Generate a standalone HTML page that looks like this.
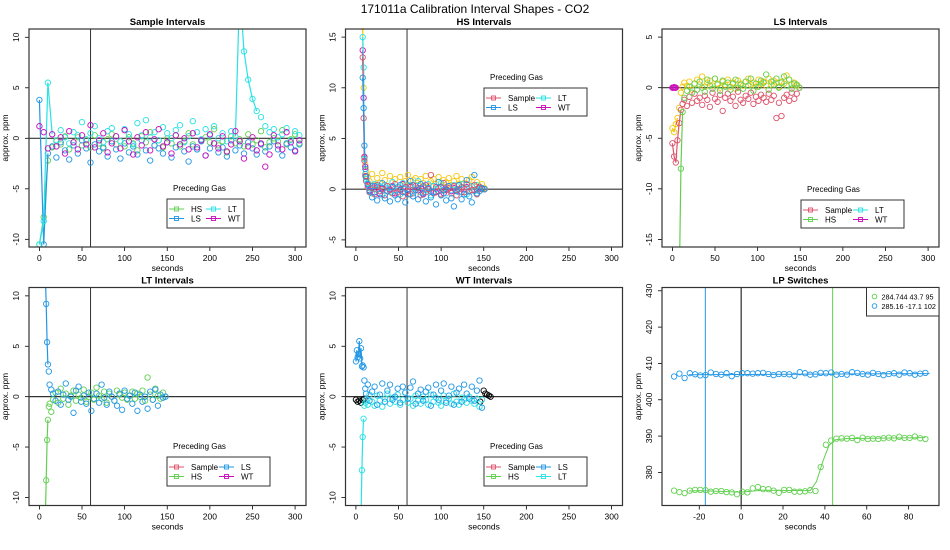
<!DOCTYPE html>
<html><head><meta charset="utf-8">
<style>
html,body{margin:0;padding:0;background:#fff;overflow:hidden;width:950px;height:550px;}
svg{display:block;font-family:"Liberation Sans",Arial,sans-serif;}
</style></head>
<body>
<svg id="chart" width="950" height="550" viewBox="0 0 950 550" xmlns="http://www.w3.org/2000/svg">
<text x="475" y="13" text-anchor="middle" font-size="12">171011a   Calibration Interval Shapes - CO2</text>
</svg>
<script>
// ---------- data ----------
const p1Times=[0,5,10,15,20,25,30,35,40,45,50,55,60,65,70,75,80,85,90,95,100,105,110,115,120,125,130,135,140,145,150,155,160,165,170,175,180,185,190,195,200,205,210,215,220,225,230,235,240,245,250,255,260,265,270,275,280,285,290,295,300,305];
const p1HS=[-10.5,-7.8,-2.2,-0.9,-0.3,-0.6,0.2,-1.1,-0.4,0.1,-0.7,-0.2,-0.9,0.3,-0.5,-1.0,-0.1,0.4,-0.6,-0.3,-0.8,0.1,-0.5,-1.2,0.2,-0.4,0.6,-0.7,-0.2,-0.9,0.0,-0.5,0.3,-0.8,-0.3,0.5,-0.6,-1.1,-0.2,0.1,-0.4,0.9,-0.7,-0.3,-1.4,0.2,-0.5,-0.1,-0.8,0.4,-0.6,-0.2,0.7,-0.9,-0.4,0.0,-0.3,0.8,-0.6,-0.1,0.4,-0.5];
const p1LS=[3.8,-10.5,-1.5,-0.8,-1.9,-0.4,-1.2,-2.1,-0.7,-1.5,-0.2,-1.0,-2.4,-0.6,-1.3,-0.9,-1.8,-0.3,-1.1,-2.0,-0.5,-1.4,-0.8,-1.6,-0.2,-1.2,-2.2,-0.7,-1.0,-1.5,-0.4,-1.9,-0.9,-0.6,-1.3,-2.3,-0.8,-1.1,-0.3,-1.7,-1.0,-0.5,-1.4,-0.9,-1.8,-0.2,-1.2,-0.7,-1.5,-0.4,-1.0,-1.6,-0.6,-1.3,-0.8,-0.3,-1.1,-1.7,-0.5,-0.9,-1.2,-0.6];
const p1LT=[-10.5,-8.2,5.5,0.4,-0.2,0.8,0.1,-0.5,0.6,0.3,1.6,-0.1,0.5,1.2,0.0,-0.4,0.7,1.0,0.2,-0.3,0.9,0.4,-0.6,1.5,0.3,1.8,0.1,0.6,-0.2,1.1,0.5,0.0,0.8,1.3,-0.4,0.2,1.7,0.6,-0.1,0.9,0.3,1.2,0.0,0.5,-0.3,0.7,0.2,15,8.6,5.8,3.9,2.7,2.1,1.2,0.6,0.9,0.1,0.4,1.0,-0.2,0.7,0.3];
const p1WT=[1.2,0.6,-1.0,0.4,-0.8,0.1,-1.5,0.7,-0.4,-1.1,0.3,-0.6,1.3,-0.9,-0.2,0.5,-1.4,-0.5,0.2,-1.0,0.8,-0.3,-1.6,0.1,-0.7,0.6,-1.2,-0.1,0.9,-0.8,-0.4,-1.5,0.3,-0.6,0.0,-1.1,0.5,-0.9,-0.2,-1.7,0.4,-0.5,-1.0,0.2,-1.3,-0.6,0.7,-0.3,-2.0,-0.8,0.1,-1.2,-0.5,-2.8,-1.6,0.3,-0.7,-1.1,0.6,-0.4,-1.3,-0.2];

const p2Times=[8,9,10,11,12,14,16,19,22,25,28,31,34,37,40,43,46,49,52,55,58,61,64,67,70,73,76,79,82,85,88,91,94,97,100,103,106,109,112,115,118,121,124,127,130,133,136,139,142,145,148,151];
const p2Sample=[13,7,2.8,1.3,0.8,0.2,-0.3,0.1,-0.5,0.4,-0.2,0.0,-0.6,0.3,-0.1,-0.4,0.5,-0.3,0.0,-0.7,0.2,-0.2,-0.5,0.4,-0.1,0.1,-0.6,0.3,-0.3,0.0,1.4,-0.4,0.2,-0.2,-0.5,0.6,-0.1,0.1,-0.4,0.3,-0.6,0.0,0.2,-0.3,0.5,-0.2,-0.1,0.4,-0.5,0.1,0.0,0.0];
const p2LS=[11,8,4.3,2.0,1.2,0.5,-0.2,-0.8,0.3,-1.1,-0.4,0.6,-0.9,-0.2,-1.2,0.2,-0.6,-1.0,0.4,-0.3,-1.3,-0.5,0.8,-0.7,-0.1,-1.0,0.5,-0.4,-1.2,0.1,-0.8,-0.3,-1.5,0.7,-0.6,-0.1,-1.1,0.3,-0.9,-1.7,-0.2,0.4,-1.0,-0.5,0.9,-0.7,-1.3,1.4,-0.4,-0.2,0.1,0.0];
const p2LT=[15,12,3,1.5,1.0,0.6,0.1,-0.4,0.5,0.0,0.3,-0.6,0.4,0.1,-0.3,0.7,-0.1,0.2,-0.5,0.6,0.0,-0.2,0.4,-0.4,0.1,0.8,-0.3,0.2,-0.1,0.5,-0.6,0.3,0.0,-0.2,0.6,0.1,-0.4,0.3,-0.1,0.4,0.0,-0.3,0.5,0.2,-0.5,0.1,0.3,-0.2,0.4,0.0,0.1,0.0];
const p2WT=[13.7,9,3.2,2.2,1.3,0.4,-0.1,0.3,-0.3,0.2,-0.5,0.1,0.4,-0.2,0.0,0.3,-0.4,0.2,-0.1,0.5,-0.3,0.0,0.2,-0.4,0.3,-0.1,0.1,-0.5,0.4,0.0,-0.2,0.3,-0.3,0.1,0.2,-0.4,0.0,0.3,-0.2,0.1,-0.1,0.4,-0.3,0.0,0.2,-0.2,0.3,-0.1,0.0,0.2,0.1,0.0];
const p2Other=[16,10,3.1,2.4,1.8,1.2,0.8,1.5,0.4,1.1,0.6,1.6,0.9,0.3,1.3,0.7,1.0,0.2,1.2,0.5,0.8,1.4,0.3,0.9,1.1,0.4,1.0,0.6,1.3,0.2,0.8,1.0,0.5,1.2,0.3,0.9,0.7,1.1,0.4,0.8,1.3,0.5,1.0,0.6,0.2,0.9,1.2,0.4,0.7,0.3,0.5,0.1];

const p3Times=[0,2,4,6,8,10,12,14,17,20,23,26,29,32,35,38,41,44,47,50,53,56,59,62,65,68,71,74,77,80,83,86,89,92,95,98,101,104,107,110,113,116,119,122,125,128,131,134,137,140,143,146,149];
const p3Sample=[-5.5,-6.8,-7.4,-5.2,-3.5,-2.2,-1.6,-1.2,-1.8,-0.9,-1.5,-0.6,-1.3,-1.0,-1.7,-0.8,-1.2,-1.9,-0.5,-1.1,-1.4,-0.7,-2.3,-1.0,-0.6,-1.3,-0.9,-1.8,-0.4,-1.2,-1.5,-0.8,-1.1,-0.5,-1.6,-0.9,-1.3,-0.7,-1.0,-1.4,-0.6,-1.2,-0.8,-3.0,-1.5,-2.8,-1.0,-0.7,-1.3,-0.5,-1.1,-0.6,0.0];
const p3HS=[null,null,null,-20,-20,-8,-2.4,-1.0,-0.3,0.1,-0.5,0.4,-0.2,0.6,0.0,-0.4,0.8,0.2,-0.1,0.9,0.3,-0.3,0.7,0.1,0.5,-0.2,0.4,0.8,0.0,0.3,-0.1,0.6,0.2,0.9,-0.3,0.4,0.1,0.7,0.5,1.3,-0.2,0.6,0.3,0.9,0.0,0.5,1.1,0.2,0.8,-0.1,0.4,0.3,0.0];
const p3Other=[-4.0,-4.4,-3.6,-3.0,-2.0,-0.5,0.1,0.5,0.2,0.6,-0.2,0.4,0.8,0.3,1.1,0.1,0.5,0.7,0.2,0.9,0.4,0.0,0.6,0.3,0.8,0.1,0.5,-0.1,0.7,0.4,0.2,0.6,0.9,0.3,0.5,0.1,0.8,0.4,0.6,0.2,0.9,0.3,0.7,0.5,0.1,0.6,0.4,1.2,0.8,0.3,0.5,0.2,0.0];
const p3WTTimes=[0,1,2,3,4];
const p3WT=[0,0,0.05,0,0];

const p4Times=[7,8,9,10,11,12,14,16,19,22,25,28,31,34,37,40,43,46,49,52,55,58,61,64,67,70,73,76,79,82,85,88,91,94,97,100,103,106,109,112,115,118,121,124,127,130,133,136,139,142,145,148];
const p4LS=[12,9.2,5.4,3.2,2.5,1.2,0.7,0.3,-0.4,0.5,-0.8,0.2,1.3,-0.3,0.0,-1.6,0.6,1.0,-0.5,0.1,-0.7,0.4,-1.4,-0.2,0.3,-0.6,1.2,-0.1,-0.8,0.5,0.0,-0.4,-0.9,0.3,-1.3,0.6,-0.2,0.1,-0.7,0.4,-1.4,0.2,-0.5,0.0,-1.2,0.5,-0.3,0.7,-0.9,0.2,-0.1,0.0];
const p4HS=[-12,-8.3,-4.3,-2.3,-1.0,-0.7,-1.5,-0.3,0.4,-0.6,0.8,-0.2,0.3,-0.8,0.1,0.6,-0.4,0.2,-0.1,0.7,-0.5,0.0,0.4,-0.3,0.9,0.1,-0.2,0.5,-0.6,0.3,0.0,-0.4,0.6,0.2,-0.1,0.4,-0.3,0.1,0.5,-0.2,0.3,0.0,0.6,-0.4,1.9,0.2,-0.3,0.8,0.1,-0.2,0.4,0.0];

const p5Times=[0,1,2,3,4,5,6,7,8,9,10,11,12,14,16,19,22,25,28,31,34,37,40,43,46,49,52,55,58,61,64,67,70,73,76,79,82,85,88,91,94,97,100,103,106,109,112,115,118,121,124,127,130,133,136,139,142,145,148];
const p5LS=[3.5,4.6,3.9,4.2,5.5,3.8,4.8,3.0,3.1,2.9,1.6,0.8,0.3,1.2,-0.4,0.5,1.0,-0.8,0.2,1.3,-0.5,0.6,1.2,-0.3,0.0,0.8,-0.6,1.0,0.4,-0.2,0.9,1.5,-0.7,0.3,0.7,-0.4,0.5,0.9,-0.9,0.2,1.2,-0.3,0.6,1.3,-0.6,0.1,1.0,-0.8,0.4,0.8,-0.5,1.2,0.3,-0.2,1.0,-0.4,0.6,1.6,-1.1];
const p5LT=[null,null,null,null,null,-20,-12,-7.3,-4.0,-2.2,-0.9,-0.6,-0.3,-0.8,0.2,-0.5,-0.9,0.1,-0.4,-1.0,-0.2,0.3,-0.7,-0.1,-0.5,0.2,-0.8,-0.3,0.4,-0.6,-0.2,-0.9,0.1,-0.4,-0.7,0.0,-0.3,-0.8,0.2,-0.5,-0.1,-0.6,-0.9,0.1,-0.4,-0.2,-0.7,0.3,-0.5,-0.8,-0.1,-0.3,-0.6,0.0,-0.4,-0.7,-0.2,-1.0,-0.3];
const p5OtherTimes=[0,2,4,6,8,10,146,150,152,154,156,158];
const p5Other=[-0.3,-0.5,-0.4,-0.6,-0.3,-0.2,-0.5,0.6,0.3,0.2,0.1,0.0];

const lpTimes=[-32,-29.5,-27,-24.5,-22,-19.5,-17,-14.5,-12,-9.5,-7,-4.5,-2,0.5,3,5.5,8,10.5,13,15.5,18,20.5,23,25.5,28,30.5,33,35.5,38,40.5,43,45.5,48,50.5,53,55.5,58,60.5,63,65.5,68,70.5,73,75.5,78,80.5,83,85.5,88];
const lpGreen=[375.0,374.6,374.3,375.0,375.2,375.2,375.1,374.7,374.9,374.9,374.6,374.5,374.0,374.7,374.5,375.6,376.0,375.4,375.4,375.0,374.4,375.2,375.2,374.7,374.7,374.8,375.1,374.9,381.5,387.6,388.8,389.3,389.4,389.3,389.5,388.9,389.6,389.2,389.3,389.2,389.4,389.6,389.4,389.8,389.5,389.5,389.9,389.4,389.2];
const lpBlue=[406.4,407.2,406.0,407.3,407.0,406.7,406.8,407.5,407.1,406.9,407.3,406.5,407.1,407.3,407.3,407.2,407.3,407.4,407.1,406.8,407.1,407.1,407.0,406.6,407.6,407.3,406.9,407.0,407.4,407.3,407.5,406.9,407.1,406.9,407.6,407.4,407.1,406.9,407.4,407.1,406.8,407.1,407.3,406.9,407.5,407.3,406.9,407.2,407.4];
const lpGreenFitT=[-25,-20,-5,0,10,33,36,39,42,45,50,88];
const lpGreenFit=[374.9,375.0,374.7,374.6,375.1,375.0,377.5,383,387.5,389.0,389.3,389.6];
const lpBlueFitT=[-25,90];
const lpBlueFit=[406.9,407.2];
const lpVLines=[-17.1,0,43.7];
const lpLegendLabels=["284.744 43.7 95","285.16 -17.1 102"];
const xTicks=[0,50,100,150,200,250,300];
const lpXTicks=[-20,0,20,40,60,80];
const lpYTicks=[380,390,400,410,420,430];

const C={red:"#DF536B",green:"#61D04F",blue:"#2297E6",cyan:"#28E2E5",mag:"#CD0BBC",yel:"#F5C710",blk:"#000"};
const NS="http://www.w3.org/2000/svg";
const svg=document.getElementById('chart');
function mk(tag,attrs,parent){const e=document.createElementNS(NS,tag);for(const k in attrs)e.setAttribute(k,attrs[k]);(parent||svg).appendChild(e);return e;}

function panel(cfg){
  const g=mk('g',{});
  
  
  const L=cfg.L,T=cfg.T,W=277,H=218;
  const sx=v=>L+(v-cfg.x0)/(cfg.x1-cfg.x0)*W;
  const sy=v=>T+(cfg.y1-v)/(cfg.y1-cfg.y0)*H;
  const cid='clip-'+cfg.name;
  const cp=mk('clipPath',{id:cid},g);mk('rect',{x:L,y:T,width:W,height:H},cp);
  const tt=mk('text',{x:L+W/2,y:T-4,'text-anchor':'middle','font-size':'9.5','font-weight':'bold'},g);tt.textContent=cfg.title;
  
  
  cfg.xt.forEach(v=>{const x=sx(v);mk('line',{x1:x,x2:x,y1:T+H,y2:T+H+4,stroke:'#000','stroke-width':0.8},g);
    const t=mk('text',{x:x,y:T+H+14,'text-anchor':'middle','font-size':'8.5'},g);t.textContent=v;
    
    });
  const xl=mk('text',{x:L+W/2,y:T+H+24,'text-anchor':'middle','font-size':'8.5'},g);xl.textContent='seconds';
  
  
  cfg.yt.forEach(v=>{const y=sy(v);mk('line',{x1:L-4,x2:L,y1:y,y2:y,stroke:'#000','stroke-width':0.8},g);
    const t=mk('text',{x:L-10,y:y,'text-anchor':'middle','font-size':'8.5',transform:`rotate(-90 ${L-10} ${y})`},g);t.textContent=v;
    
    });
  const yl=mk('text',{x:L-21,y:T+H/2,'text-anchor':'middle','font-size':'8.5',transform:`rotate(-90 ${L-21} ${T+H/2})`},g);yl.textContent='approx. ppm';
  
  
  const pg=mk('g',{'clip-path':`url(#${cid})`},g);
  if(cfg.hline!==undefined){const y=sy(cfg.hline);mk('line',{x1:L,x2:L+W,y1:y,y2:y,stroke:'#333','stroke-width':1.2},pg);}
  (cfg.vlines||[]).forEach(vl=>{const x=sx(vl.v);mk('line',{x1:x,x2:x,y1:T,y2:T+H,stroke:vl.c,'stroke-width':1},pg);});
  const lo=cfg.y0,hi=cfg.y1;
  // clip a segment in data space to the y range
  function clipSeg(t1,a,t2,b){
    if((a<lo&&b<lo)||(a>hi&&b>hi))return null;
    const f=v=>(v-a)/(b-a);
    let s=0,e=1;
    if(a<lo)s=Math.max(s,f(lo));if(a>hi)s=Math.max(s,f(hi));
    if(b<lo)e=Math.min(e,f(lo));if(b>hi)e=Math.min(e,f(hi));
    return [t1+(t2-t1)*s,a+(b-a)*s,t1+(t2-t1)*e,a+(b-a)*e];
  }
  (cfg.series).forEach(s=>{
    const sg=mk('g',{},pg);
    
    
    if(s.fitT){let d='';s.fitT.forEach((t,i)=>{d+=(i?'L':'M')+sx(t).toFixed(1)+','+sy(s.fit[i]).toFixed(1);});
      mk('path',{d:d,fill:'none',stroke:s.c,'stroke-width':1},sg);}
    else{
      for(let i=0;i<s.v.length-1&&i<s.t.length-1;i++){const a=s.v[i],b=s.v[i+1];if(a==null||b==null)continue;
        if(Math.abs(a)>3.2||Math.abs(b)>3.2){const c=clipSeg(s.t[i],a,s.t[i+1],b);if(!c)continue;
          mk('line',{x1:sx(c[0]).toFixed(1),y1:sy(c[1]).toFixed(1),x2:sx(c[2]).toFixed(1),y2:sy(c[3]).toFixed(1),stroke:s.c,'stroke-width':1.2},sg);}}
    }
    s.v.forEach((v,i)=>{if(v==null||i>=s.t.length||v<lo-0.2||v>hi+0.2)return;
      const c=mk('circle',{cx:sx(s.t[i]).toFixed(1),cy:sy(v).toFixed(1),r:2.7,fill:'none',stroke:s.c,'stroke-width':0.9},sg);
      
      });
  });
  const box=mk('rect',{x:L,y:T,width:W,height:H,fill:'none',stroke:'#333','stroke-width':1.2},g);
  
  
  if(cfg.leg){const lg=cfg.leg;const gg=mk('g',{},g);
    
    
    if(lg.title){const t=mk('text',{x:lg.x+6,y:lg.y-8,'font-size':'8'},gg);t.textContent=lg.title;}
    mk('rect',{x:lg.x,y:lg.y,width:lg.w,height:lg.h,fill:'#fff',stroke:'#333','stroke-width':1},gg);
    lg.items.forEach((it,i)=>{
      const col=i%lg.cols,row=Math.floor(i/lg.cols);
      const x0=lg.x+(lg.square?2:4)+col*lg.colW,y=lg.y+10+row*9.5;
      const e=mk('g',{},gg);
      
      
      if(lg.square){mk('line',{x1:x0,x2:x0+15,y1:y,y2:y,stroke:it.c,'stroke-width':1},e);
        mk('rect',{x:x0+5.5,y:y-2,width:4,height:4,fill:'none',stroke:it.c,'stroke-width':0.9},e);
        const t=mk('text',{x:x0+22,y:y+3,'font-size':'8'},e);t.textContent=it.l;}
      else{mk('circle',{cx:x0+4,cy:y-1,r:2.3,fill:'none',stroke:it.c,'stroke-width':0.9},e);
        const t=mk('text',{x:x0+11,y:y+2,'font-size':'7.2'},e);t.textContent=it.l;}
    });}
}
const R1=29,R2=287.5;
panel({name:'sample-intervals',title:'Sample Intervals',L:29,T:R1,x0:-12.2,x1:312.8,y0:-10.76,y1:10.82,xt:xTicks,yt:[-10,-5,0,5,10],hline:0,vlines:[{v:60,c:'#333'}],
  series:[{name:'series-hs',t:p1Times,v:p1HS,c:C.green},{name:'series-ls',t:p1Times,v:p1LS,c:C.blue},{name:'series-lt',t:p1Times,v:p1LT,c:C.cyan},{name:'series-wt',t:p1Times,v:p1WT,c:C.mag}],
  leg:{title:'Preceding Gas',x:167,y:199,w:77,h:29,cols:2,colW:37,square:true,items:[{l:'HS',c:C.green},{l:'LT',c:C.cyan},{l:'LS',c:C.blue},{l:'WT',c:C.mag}]}});
panel({name:'hs-intervals',title:'HS Intervals',L:345.5,T:R1,x0:-12.2,x1:312.8,y0:-5.7,y1:15.8,xt:xTicks,yt:[-5,0,5,10,15],hline:0,vlines:[{v:60,c:'#333'}],
  series:[{name:'series-other',t:p2Times,v:p2Other,c:C.yel},{name:'series-wt',t:p2Times,v:p2WT,c:C.mag},{name:'series-lt',t:p2Times,v:p2LT,c:C.cyan},{name:'series-sample',t:p2Times,v:p2Sample,c:C.red},{name:'series-ls',t:p2Times,v:p2LS,c:C.blue}],
  leg:{title:'Preceding Gas',x:484,y:88,w:103,h:28,cols:2,colW:50,square:true,items:[{l:'Sample',c:C.red},{l:'LT',c:C.cyan},{l:'LS',c:C.blue},{l:'WT',c:C.mag}]}});
panel({name:'ls-intervals',title:'LS Intervals',L:662,T:R1,x0:-12.2,x1:312.8,y0:-15.75,y1:5.8,xt:xTicks,yt:[-15,-10,-5,0,5],hline:0,
  series:[{name:'series-other',t:p3Times,v:p3Other,c:C.yel},{name:'series-sample',t:p3Times,v:p3Sample,c:C.red},{name:'series-hs',t:p3Times,v:p3HS,c:C.green},{name:'series-wt',t:p3WTTimes,v:p3WT,c:C.mag}],
  leg:{title:'Preceding Gas',x:801,y:200,w:103,h:28,cols:2,colW:50,square:true,items:[{l:'Sample',c:C.red},{l:'LT',c:C.cyan},{l:'HS',c:C.green},{l:'WT',c:C.mag}]}});
panel({name:'lt-intervals',title:'LT Intervals',L:29,T:R2,x0:-12.2,x1:312.8,y0:-10.8,y1:10.83,xt:xTicks,yt:[-10,-5,0,5,10],hline:0,vlines:[{v:60,c:'#333'}],
  series:[{name:'series-hs',t:p4Times,v:p4HS,c:C.green},{name:'series-ls',t:p4Times,v:p4LS,c:C.blue}],
  leg:{title:'Preceding Gas',x:167,y:457,w:103,h:29,cols:2,colW:50,square:true,items:[{l:'Sample',c:C.red},{l:'LS',c:C.blue},{l:'HS',c:C.green},{l:'WT',c:C.mag}]}});
panel({name:'wt-intervals',title:'WT Intervals',L:345.5,T:R2,x0:-12.2,x1:312.8,y0:-10.8,y1:10.83,xt:xTicks,yt:[-10,-5,0,5,10],hline:0,vlines:[{v:60,c:'#333'}],
  series:[{name:'series-other',t:p5OtherTimes,v:p5Other,c:C.blk},{name:'series-lt',t:p5Times,v:p5LT,c:C.cyan},{name:'series-ls',t:p5Times,v:p5LS,c:C.blue}],
  leg:{title:'Preceding Gas',x:484,y:457,w:103,h:29,cols:2,colW:50,square:true,items:[{l:'Sample',c:C.red},{l:'LS',c:C.blue},{l:'HS',c:C.green},{l:'LT',c:C.cyan}]}});
panel({name:'lp-switches',title:'LP Switches',L:662,T:R2,x0:-37.8,x1:94.5,y0:370.9,y1:430.9,xt:lpXTicks,yt:lpYTicks,
  vlines:[{v:lpVLines[0],c:C.blue},{v:lpVLines[1],c:'#000'},{v:lpVLines[2],c:C.green}],
  series:[{name:'series-lp-green',t:lpTimes,v:lpGreen,c:C.green,fitT:lpGreenFitT,fit:lpGreenFit},{name:'series-lp-blue',t:lpTimes,v:lpBlue,c:C.blue,fitT:lpBlueFitT,fit:lpBlueFit}],
  leg:{x:866.5,y:287.5,w:72.5,h:28.5,cols:1,colW:0,square:false,items:[{l:lpLegendLabels[0],c:C.green},{l:lpLegendLabels[1],c:C.blue}]}});
</script>
</body></html>
